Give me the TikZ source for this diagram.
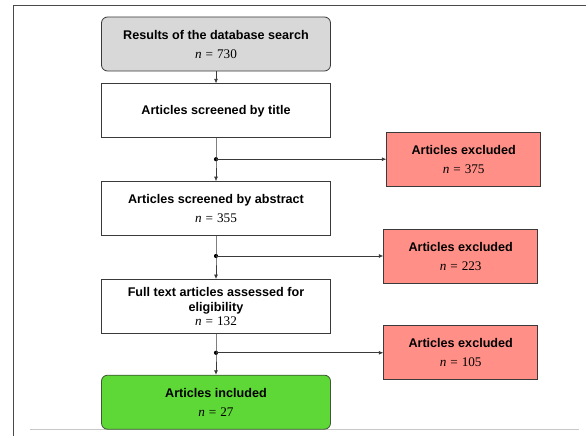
\documentclass[tikz,border=0pt]{standalone}
\usepackage{fontspec}
\setmainfont{Liberation Sans}
\newfontfamily\countfont{Liberation Serif}
\usepackage{tikz}
\usetikzlibrary{arrows.meta, positioning, calc}
\definecolor{SearchGray}{HTML}{D8D8D8}
\definecolor{ExclRed}{HTML}{FF8F87}
\definecolor{InclGreen}{HTML}{5ED836}
\definecolor{EdgeDark}{HTML}{3A3A3A}
\definecolor{GreenEdge}{HTML}{3D5A32}
\definecolor{FrameGray}{HTML}{4A4A4A}
\definecolor{RuleGray}{HTML}{C8C8C8}
\newcommand{\cnt}[1]{{\normalfont\countfont\fontsize{13.2}{15}\selectfont\textit{n}\hspace{0.3em}=\hspace{0.3em}#1}}

\begin{document}
\begin{tikzpicture}[x=1pt, y=1pt, font=\fontsize{12.6}{15}\selectfont\bfseries,
  stagebox/.style={draw=EdgeDark, line width=0.8pt, fill=white, minimum width=229pt, minimum height=54pt, align=center, inner sep=2pt},
  exclbox/.style={draw=EdgeDark, line width=0.8pt, fill=ExclRed, minimum width=154pt, minimum height=54pt, align=center, anchor=west},
  flow/.style={-{Latex[length=4.5pt, width=4pt]}, line width=0.7pt, EdgeDark},
  junction/.style={circle, fill=black, inner sep=0pt, minimum size=4.2pt}]
  \useasboundingbox (0,0) rectangle (586,-436);
  % frame of the page
  \draw[FrameGray, line width=1pt] (13,-436) -- (13,-5.5) -- (586,-5.5);
  \draw[RuleGray, line width=0.8pt] (30,-429) -- (579,-429);

  \node[stagebox, fill=SearchGray, rounded corners=6pt] (search) at (216,-44) {Results of the database search\\[4pt]\cnt{730}};
  \node[stagebox, below=12pt of search] (title) {Articles screened by title};
  \node[stagebox, below=43pt of title] (abstract) {Articles screened by abstract\\[4pt]\cnt{355}};
  \node[stagebox, below=43pt of abstract] (fulltext) {Full text articles assessed for\\eligibility\\[-1.5pt]\cnt{132}};
  \node[stagebox, fill=InclGreen, draw=GreenEdge, rounded corners=6pt, below=41pt of fulltext] (included) {Articles included\\[4pt]\cnt{27}};

  \node[junction] (j1) at ($(title.south)+(0,-21)$) {};
  \node[junction] (j2) at ($(abstract.south)+(0,-20)$) {};
  \node[junction] (j3) at ($(fulltext.south)+(0,-19)$) {};

  \node[exclbox, right=168pt of j1] (excl1) {Articles excluded\\[4pt]\cnt{375}};
  \node[exclbox, right=165pt of j2] (excl2) {Articles excluded\\[4pt]\cnt{223}};
  \node[exclbox, right=165pt of j3] (excl3) {Articles excluded\\[4pt]\cnt{105}};

  \draw[flow] (search) -- (title);
  \draw[flow] (title) -- (j1.center) -- (abstract);
  \draw[flow] (j1.center) -- (excl1);
  \draw[flow] (abstract) -- (j2.center) -- (fulltext);
  \draw[flow] (j2.center) -- (excl2);
  \draw[flow] (fulltext) -- (j3.center) -- (included);
  \draw[flow] (j3.center) -- (excl3);
\end{tikzpicture}
\end{document}
